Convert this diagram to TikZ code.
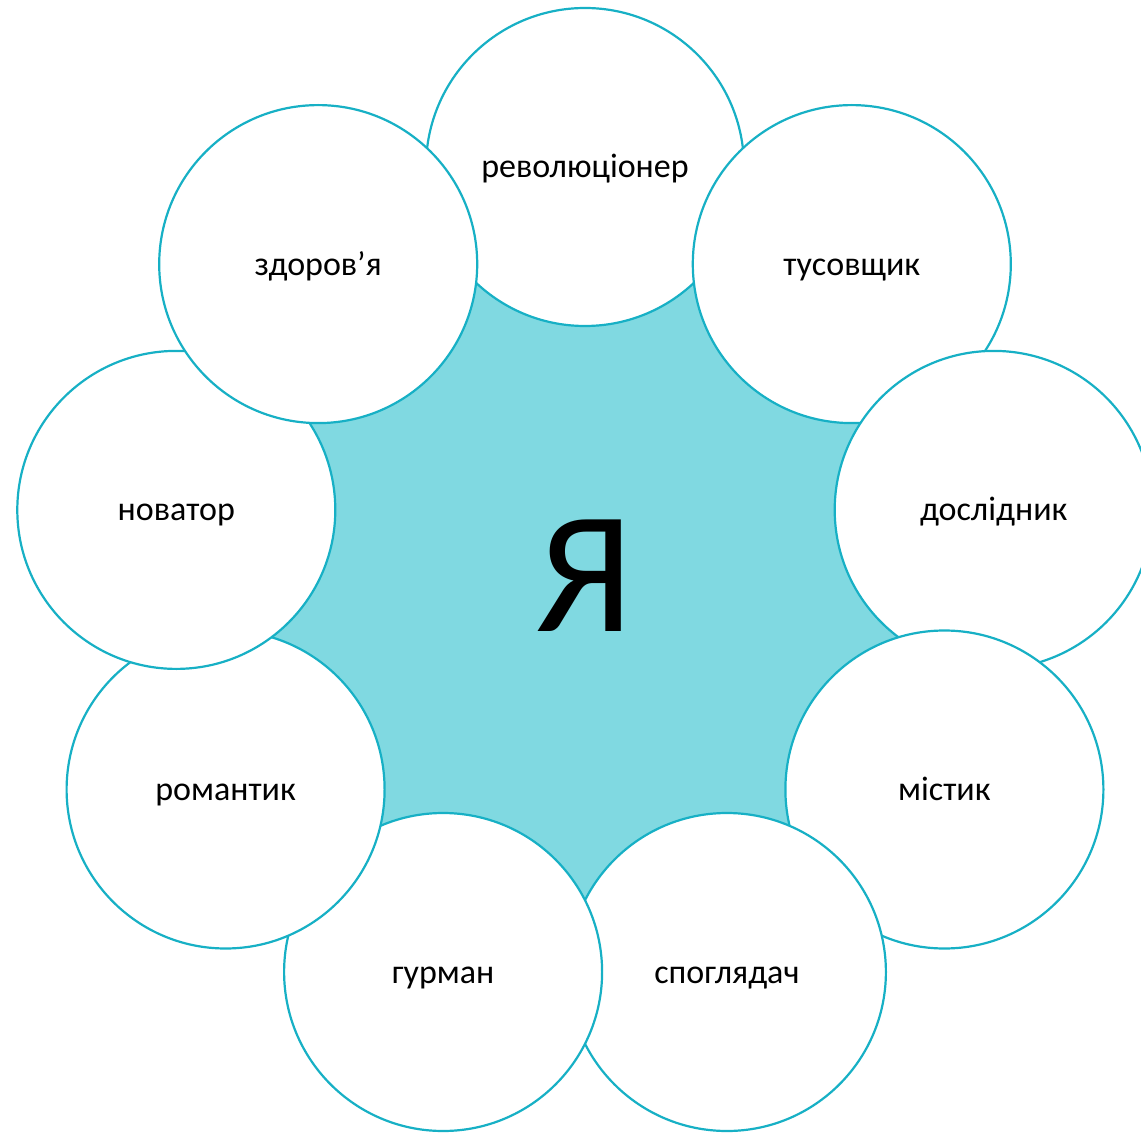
\documentclass[tikz,border=0pt]{standalone}
\usepackage{fontspec}
\setmainfont{Carlito}
\definecolor{ringline}{HTML}{17B0C5}
\definecolor{corefill}{HTML}{80D9E1}
\begin{document}
\begin{tikzpicture}[x=0.5pt,y=-0.5pt,
  bubble/.style={circle,draw=ringline,line width=1.1pt,fill=white,minimum size=159pt,inner sep=0pt,
    text height=11pt,text depth=0pt,font=\fontsize{17}{20}\selectfont},
  core/.style={circle,fill=corefill,minimum size=340pt,inner sep=0pt}]
\useasboundingbox (0,0) rectangle (1141,1134);
\clip (0,0) rectangle (1141,1134);
\node[core] (c) at (585,582) {};
\node[inner sep=0pt,font=\fontsize{87}{90}\selectfont] (ya) at (585,576) {Я};
\node[bubble] (n1) at (585,167) {революціонер};
\node[bubble] (n2) at (851.8,264.1) {тусовщик};
\node[bubble] (n3) at (993.7,509.9) {дослідник};
\node[bubble] (n4) at (944.4,789.5) {містик};
\node[bubble] (n5) at (726.9,972) {споглядач};
\node[bubble] (n6) at (443.1,972) {гурман};
\node[bubble] (n7) at (225.6,789.5) {романтик};
\node[bubble] (n8) at (176.3,509.9) {новатор};
\node[bubble] (n9) at (318.2,264.1) {здоров’я};
\end{tikzpicture}
\end{document}
